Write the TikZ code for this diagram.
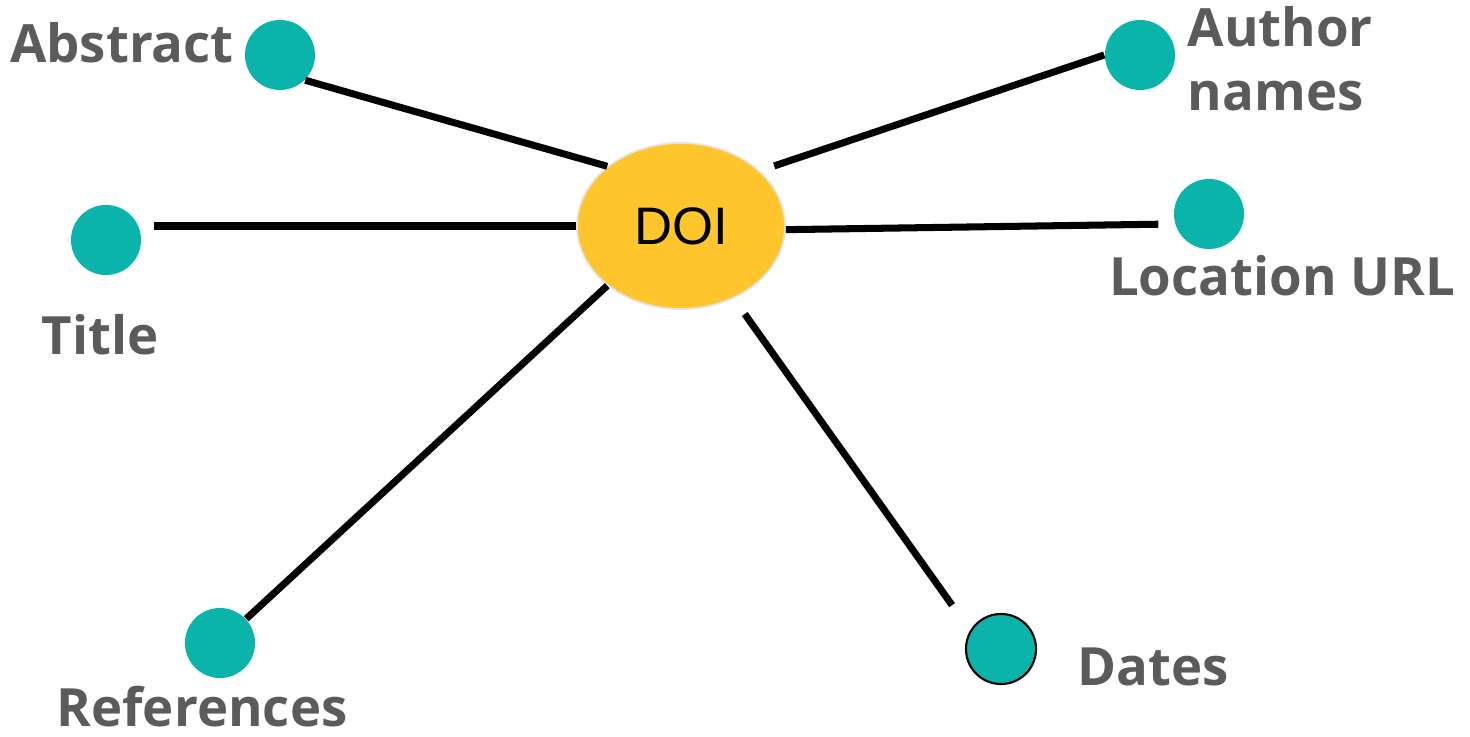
\documentclass[tikz,border=0pt]{standalone}
\usepackage{fontspec}
\setmainfont{Open Sans}
\newfontfamily\doifont{Liberation Sans}
\usetikzlibrary{shapes.geometric}

\definecolor{tealdot}{HTML}{0BB4AA}
\definecolor{doiyellow}{HTML}{FFC52C}
\definecolor{labelgray}{HTML}{5B5B5B}
\definecolor{rimgray}{HTML}{E4E4E4}

\tikzset{
  infodot/.style={circle, fill=tealdot, minimum size=0.70cm, inner sep=0pt},
  hub/.style={ellipse, fill=doiyellow, draw=rimgray, line width=0.5pt,
    minimum width=2.08cm, minimum height=1.66cm, inner sep=0pt,
    font=\doifont\fontsize{15}{18}\selectfont},
  lbl/.style={text=labelgray, inner sep=0pt, anchor=base,
    font=\bfseries\fontsize{15}{18}\selectfont},
  link/.style={line width=2pt},
}

\begin{document}
\begin{tikzpicture}[x=0.01cm, y=-0.01cm]
  \useasboundingbox (0,0) rectangle (1470,737);

  % DOI in the middle
  \node[hub] (doi) at (681,226) {DOI};

  % outer dots
  \node[infodot] (abstract) at (280,55) {};
  \node[infodot] (author) at (1140,55) {};
  \node[infodot] (location) at (1209,214) {};
  \node[infodot] (title) at (106,240) {};
  \node[infodot] (references) at (220,643) {};
  \node[infodot, draw=black, line width=0.6pt] (dates) at (1001,649) {};

  % labels
  \node[lbl] (abstractlbl) at (122,63) {Abstract};
  \node[lbl, align=left, anchor=north west] (authorlbl) at (1187,6) {Author\\names};
  \node[lbl] (locationlbl) at (1282,296) {Location URL};
  \node[lbl] (titlelbl) at (100,355) {Title};
  \node[lbl] (referenceslbl) at (202,726) {References};
  \node[lbl] (dateslbl) at (1153,685) {Dates};

  % links from DOI
  \draw[link] (doi.141) -- (abstract.-45);
  \draw[link, shorten <=0.15cm] (doi.35) -- (author.west);
  \draw[link, shorten >=0.12cm] (doi.west) -- (title.east |- doi.west);
  \draw[link, shorten >=0.15cm] (doi.-2) -- ([yshift=-0.1cm]location.west);
  \draw[link] (doi.219) -- (references);
  \draw[link, shorten <=0.19cm, shorten >=0.31cm] (doi.-54) -- (dates.149);
\end{tikzpicture}
\end{document}
